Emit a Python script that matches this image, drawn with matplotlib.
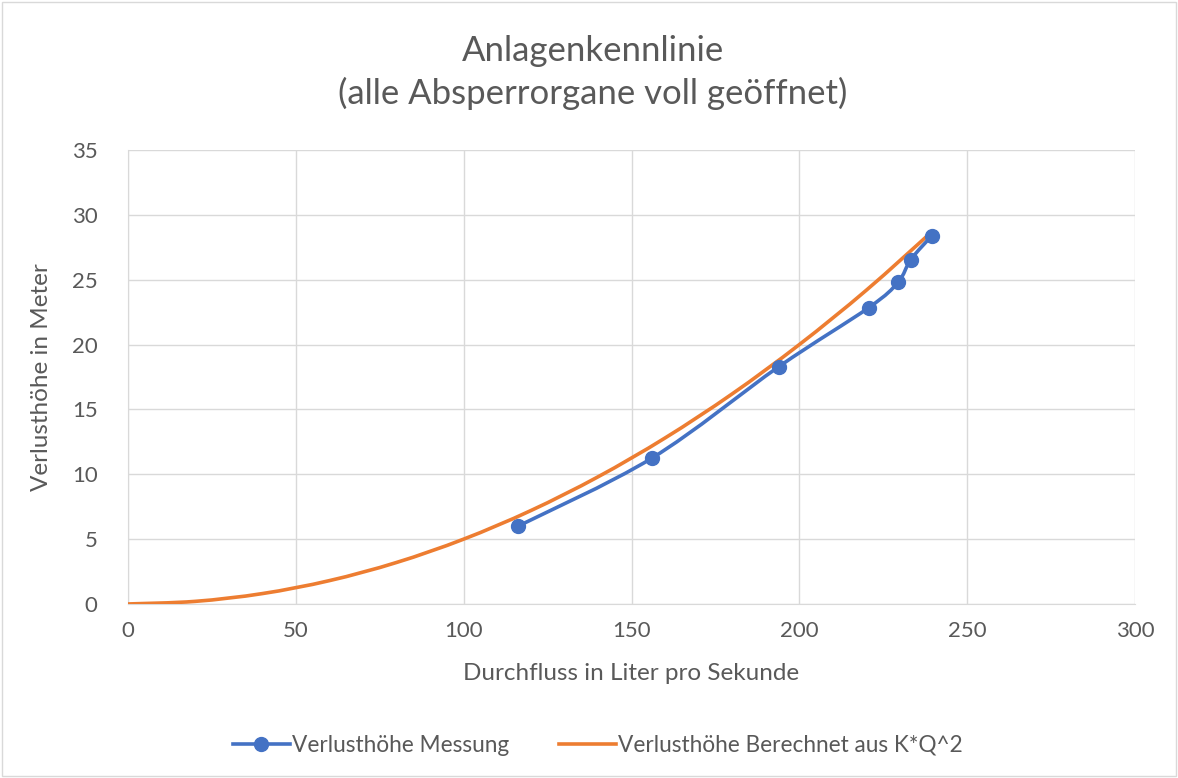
import matplotlib.pyplot as plt
from matplotlib.path import Path
from matplotlib.patches import PathPatch, Rectangle
from matplotlib.lines import Line2D
import numpy as np

plt.rcParams['font.family'] = ['Lato', 'DejaVu Sans']

# measured points
q_mess = [116.2, 156.1, 193.9, 220.7, 229.4, 233.2, 239.5]
h_mess = [6.0, 11.25, 18.3, 22.85, 24.8, 26.55, 28.4]

# calculated curve K*Q^2
q_calc = [0, 20, 40, 60, 80, 100, 120, 140, 160, 180, 200, 220, 239.5]
h_calc = [0, 0.2, 0.8, 1.8, 3.2, 5.0, 7.2, 9.8, 12.8, 16.2, 20.0, 24.2, 28.7]

blue = '#4472C4'
orange = '#ED7D31'
grey = '#595959'


def smooth_path(x, y):
    # excel-like smoothed line: cubic bezier through the points
    pts = np.column_stack([x, y])
    verts = [pts[0]]
    codes = [Path.MOVETO]
    n = len(pts)
    for i in range(n - 1):
        p0 = pts[i - 1] if i > 0 else pts[i]
        p1 = pts[i]
        p2 = pts[i + 1]
        p3 = pts[i + 2] if i + 2 < n else pts[i + 1]
        c1 = p1 + (p2 - p0) / 6
        c2 = p2 - (p3 - p1) / 6
        verts += [c1, c2, p2]
        codes += [Path.CURVE4] * 3
    return Path(verts, codes)


fig = plt.figure(figsize=(11.78, 7.78), dpi=100)
ax = fig.add_axes([0.1087, 0.2237, 0.8548, 0.5835])

ax.add_patch(PathPatch(smooth_path(q_calc, h_calc), fill=False, color=orange,
                       lw=2.6, capstyle='round', zorder=3))
ax.add_patch(PathPatch(smooth_path(q_mess, h_mess), fill=False, color=blue,
                       lw=2.6, capstyle='round', zorder=4))
ax.plot(q_mess, h_mess, 'o', color=blue, ms=10, zorder=5)

ax.set_xlim(0, 300)
ax.set_ylim(0, 35)
ax.set_xticks(range(0, 301, 50))
ax.set_yticks(range(0, 36, 5))
ax.grid(color='#D9D9D9', lw=1)
ax.set_axisbelow(True)
for s in ['top', 'right']:
    ax.spines[s].set_visible(False)
ax.spines['left'].set_color('#D9D9D9')
ax.spines['bottom'].set_color('#D9D9D9')
ax.tick_params(length=0, labelsize=16, colors=grey)
ax.tick_params(axis='y', pad=22)
ax.tick_params(axis='x', pad=12)

ax.set_xlabel('Durchfluss in Liter pro Sekunde', fontsize=17.5, color=grey, labelpad=16)
ax.set_ylabel('Verlusthöhe in Meter', fontsize=17.5, color=grey, labelpad=14)

fig.text(0.5035, 0.907, 'Anlagenkennlinie\n(alle Absperrorgane voll geöffnet)',
         ha='center', va='center', fontsize=25, color=grey, linespacing=1.35)

handles = [Line2D([], [], color=blue, lw=2.6, marker='o', ms=10),
           Line2D([], [], color=orange, lw=2.6)]
fig.legend(handles, ['Verlusthöhe Messung', 'Verlusthöhe Berechnet aus K*Q^2'],
           loc='center', bbox_to_anchor=(0.5075, 0.042), ncol=2, frameon=False,
           fontsize=16.3, labelcolor=grey, handlelength=2.5, handletextpad=0.1,
           columnspacing=2.2)

fig.add_artist(Rectangle((0.002, 0.002), 0.996, 0.996, transform=fig.transFigure,
                         fill=False, edgecolor='#D9D9D9', lw=1))

fig.savefig('out.png', dpi=100)
